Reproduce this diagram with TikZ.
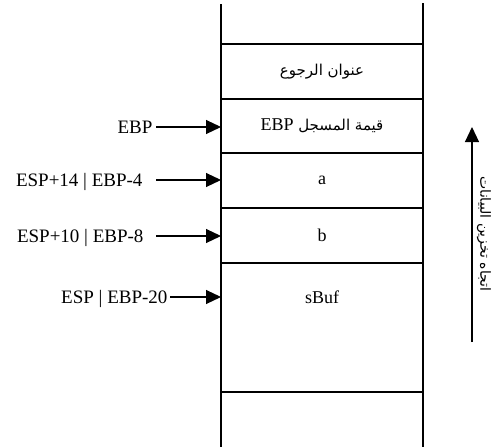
\documentclass[tikz,border=0pt]{standalone}
\usepackage{fontspec}
\setmainfont{Liberation Serif}
\newfontfamily\arabicfont[Script=Arabic]{DejaVu Sans}
\TeXXeTstate=1
\usetikzlibrary{arrows.meta}
\begin{document}
\begin{tikzpicture}[x=1pt,y=-1pt, line width=1.1pt,
  cell/.style={draw, minimum width=202pt, inner sep=0pt, outer sep=0pt, anchor=north, font=\fontsize{18}{21}\selectfont},
  lbl/.style={font=\fontsize{19}{22}\selectfont, inner sep=0pt, text height=13pt, text depth=0pt, anchor=east},
  ptr/.style={-{Triangle[length=15pt,width=14pt]}, line width=1.1pt},
  ar/.style={font=\arabicfont\fontsize{15}{18}\selectfont}]
\useasboundingbox (0,0) rectangle (492,447);
% stack cells
\node[cell, ar, minimum height=55pt] (ret) at (322,44) {\beginR عنوان الرجوع\endR};
\node[cell, ar, minimum height=54pt] (ebp) at (322,99) {\beginR قيمة المسجل \beginL{\fontspec{Liberation Serif}\fontsize{18}{21}\selectfont EBP}\endL\endR};
\node[cell, minimum height=55pt] (va) at (322,153) {a};
\node[cell, minimum height=55pt] (vb) at (322,208) {b};
\node[cell, minimum height=129pt] (sbuf) at (322,263) {};
\node[font=\fontsize{18}{21}\selectfont] (sbuftxt) at (322,297) {sBuf};
% side walls
\coordinate (ltop) at (221,4);
\coordinate (lbot) at (221,447);
\coordinate (rtop) at (423,3);
\coordinate (rbot) at (423,447);
\draw (ltop) -- (lbot);
\draw (rtop) -- (rbot);
% pointers
\node[lbl] (p1) at (153,127) {EBP};
\node[lbl] (p2) at (143,180) {ESP+14 | EBP-4};
\node[lbl] (p3) at (144,236) {ESP+10 | EBP-8};
\node[lbl] (p4) at (168,297) {ESP | EBP-20};
\draw[ptr, shorten <=3pt] (p1.east) -- (p1.east -| ebp.west);
\draw[ptr, shorten <=13pt] (p2.east) -- (p2.east -| va.west);
\draw[ptr, shorten <=12pt] (p3.east) -- (p3.east -| vb.west);
\draw[ptr, shorten <=2pt] (p4.east) -- (p4.east -| sbuf.west);
% direction arrow
\coordinate (dbot) at (472,342);
\coordinate (dtop) at (472,127);
\draw[ptr] (dbot) -- (dtop);
\node[ar, font=\arabicfont\fontsize{14}{17}\selectfont, rotate=-90, inner sep=0pt] (dir) at (484,234) {\beginR اتجاه تخزين البيانات\endR};
\end{tikzpicture}
\end{document}
